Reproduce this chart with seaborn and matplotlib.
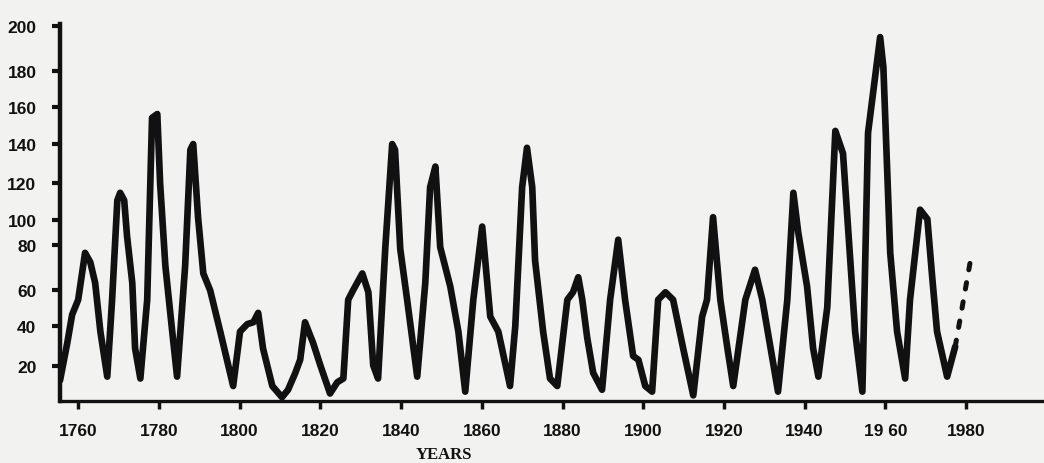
import seaborn as sns
import matplotlib.pyplot as plt

# yearly sunspot curve
years = [1755.5, 1757.3, 1758.5, 1760.0, 1761.7, 1763.0, 1764.2, 1765.5, 1767.2, 1768.4,
         1769.7, 1770.4, 1771.4, 1772.1, 1773.4, 1774.1, 1775.4, 1777.1, 1778.3, 1779.6,
         1780.3, 1781.6, 1783.3, 1784.5, 1786.5, 1787.8, 1788.5, 1789.7, 1791.0, 1792.7,
         1795.2, 1798.4, 1800.1, 1801.9, 1803.4, 1804.6, 1805.8, 1808.1, 1810.5, 1812.0,
         1813.8, 1815.0, 1816.2, 1818.2, 1820.0, 1822.4, 1824.2, 1825.7, 1826.9, 1828.1,
         1830.4, 1831.9, 1833.1, 1834.3, 1836.1, 1837.8, 1838.5, 1839.8, 1841.5, 1844.0,
         1846.0, 1847.2, 1848.5, 1849.7, 1852.2, 1854.2, 1855.9, 1857.9, 1860.1, 1862.1,
         1864.1, 1867.0, 1868.3, 1870.0, 1871.2, 1872.5, 1873.2, 1875.2, 1876.9, 1878.7,
         1881.2, 1882.6, 1883.9, 1884.9, 1886.1, 1887.6, 1889.8, 1891.8, 1893.8, 1895.5,
         1897.5, 1898.8, 1900.5, 1902.2, 1903.7, 1905.5, 1907.4, 1909.9, 1912.4, 1914.6,
         1915.8, 1917.3, 1919.1, 1920.8, 1922.3, 1925.3, 1927.7, 1929.5, 1931.5, 1933.4,
         1935.7, 1937.2, 1938.4, 1940.6, 1942.1, 1943.4, 1945.6, 1947.6, 1949.5, 1951.3,
         1952.5, 1954.3, 1955.7, 1958.7, 1959.5, 1961.2, 1962.9, 1964.9, 1966.1, 1968.6,
         1970.4, 1971.6, 1972.8, 1975.3, 1977.3]
sunspots = [11, 31, 46, 54, 79, 74, 63, 37, 13, 54,
            107, 111, 107, 88, 63, 28, 12, 54, 151, 153,
            116, 72, 37, 13, 72, 134, 137, 98, 68, 59,
            37, 8, 37, 41, 42, 47, 28, 8, 2, 6,
            15, 22, 42, 31, 19, 4, 10, 12, 54, 59,
            68, 58, 19, 12, 82, 137, 134, 81, 54, 13,
            63, 114, 125, 82, 61, 37, 5, 54, 93, 45,
            37, 8, 40, 114, 135, 114, 75, 37, 12, 8,
            54, 58, 66, 54, 34, 15, 6, 54, 86, 54,
            24, 22, 8, 5, 54, 58, 54, 28, 3, 45,
            54, 98, 54, 29, 8, 54, 70, 54, 29, 5,
            54, 111, 90, 61, 28, 13, 50, 144, 132, 75,
            37, 5, 143, 194, 178, 79, 37, 12, 54, 102,
            97, 66, 37, 13, 29]

# dotted forecast piece at the end
fc_years = [1977.3, 1981.0]
fc_values = [29, 74]

x_ticks = [1760, 1780, 1800, 1820, 1840, 1860, 1880, 1900, 1920, 1940, 1960, 1980]
x_labels = ["1760", "1780", "1800", "1820", "1840", "1860", "1880", "1900", "1920", "1940", "19 60", "1980"]
# hand drawn y axis: ticks are not evenly spaced on the original
y_ticks = [18.6, 40, 59, 83, 96.5, 116, 137, 156.5, 176, 200]
y_labels = ["20", "40", "60", "80", "100", "120", "140", "160", "180", "200"]

sns.set_style("ticks")
plt.rcParams["font.family"] = ["Liberation Sans", "DejaVu Sans"]

paper = "#f2f2f0"
ink = "#111111"

fig = plt.figure(figsize=(10.44, 4.64), dpi=100, facecolor=paper)
ax = fig.add_axes([0.0575, 0.1336, 0.9425, 0.8125])
ax.set_facecolor(paper)

sns.lineplot(x=years, y=sunspots, ax=ax, color=ink, linewidth=4.8, estimator=None,
             solid_joinstyle="round", solid_capstyle="round")
ax.plot(fc_years, fc_values, color=ink, linewidth=3.6, linestyle=(0, (1.3, 2.6)),
        dash_capstyle="round")

ax.set_xlim(1755.5, 1999.3)
ax.set_ylim(0, 201)

ax.set_xticks(x_ticks)
ax.set_xticklabels(x_labels, fontsize=12.5, fontweight="bold", color=ink)
ax.set_yticks(y_ticks)
ax.set_yticklabels(y_labels, fontsize=12.5, fontweight="bold", color=ink)

ax.tick_params(axis="y", length=6, width=3, pad=11, color=ink)
ax.tick_params(axis="x", length=6, width=2.5, pad=10, color=ink)

sns.despine(ax=ax)
ax.spines["left"].set_linewidth(3.2)
ax.spines["bottom"].set_linewidth(2.4)
ax.spines["left"].set_color(ink)
ax.spines["bottom"].set_color(ink)

ax.set_ylabel("")
ax.set_xlabel("YEARS", fontsize=12, fontweight="bold", family="Liberation Serif", color=ink)
ax.xaxis.set_label_coords(0.39, -0.12)

fig.savefig("out.png", dpi=100, facecolor=paper)
